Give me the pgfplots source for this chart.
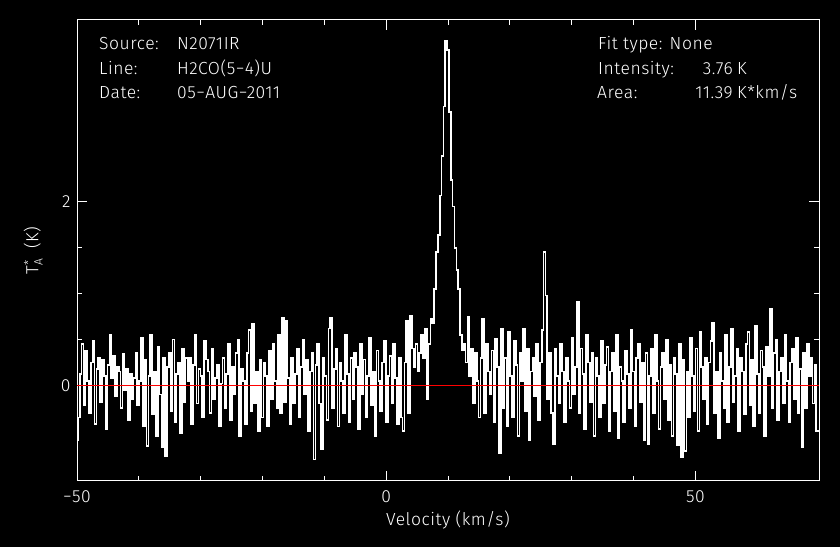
\documentclass[border=0pt]{standalone}
\usepackage{pgfplots}
\pgfplotsset{compat=1.18}
\usepackage{fontspec}
\setmainfont{Fira Sans}[UprightFont=* Light, LetterSpace=3]

\begin{document}
\begin{tikzpicture}[every node/.style={text=white}]
\path[use as bounding box, fill=black] (0,0) rectangle (840bp,547bp);
\begin{axis}[
  at={(77bp,66bp)}, anchor=south west,
  scale only axis, width=742bp, height=461bp,
  xmin=-50, xmax=70, ymin=-1.044, ymax=3.984,
  axis line style={white, line width=1bp},
  every tick/.style={white, line width=1bp},
  tick align=inside,
  major tick length=10bp, minor tick length=5bp,
  xtick={-50,0,50}, xticklabels={−50,0,50},
  ytick={0,2}, yticklabels={0,2},
  minor x tick num=4, minor y tick num=3,
  tick label style={font=\fontsize{17.5bp}{20bp}\selectfont},
  xticklabel style={yshift=-6bp},
  yticklabel style={xshift=-3bp},
  xlabel={Velocity (km/s)},
  ylabel={T\rlap{\raisebox{0.6ex}{\fontsize{12bp}{13bp}\selectfont *}}\raisebox{-0.45ex}{\fontsize{12bp}{13bp}\selectfont A}\ \ (K)},
  label style={font=\fontsize{17.5bp}{20bp}\selectfont},
  xlabel style={at={(axis description cs:0.5,0)}, anchor=base, yshift=-44bp},
  ylabel style={at={(axis description cs:-0.059,0.5)}, anchor=center},
  clip=true,
]
\addplot[white, line width=1.7bp, const plot mark mid] coordinates {
(-50.0,-0.60) (-49.7,-0.35) (-49.4,0.12) (-49.1,0.45) (-48.8,-0.22) (-48.5,0.38) (-48.2,0.05) (-47.9,-0.30) (-47.6,0.25) (-47.3,0.48)
(-47.0,-0.42) (-46.7,0.18) (-46.4,0.30) (-46.1,-0.18) (-45.8,0.28) (-45.5,0.10) (-45.2,-0.48) (-44.9,0.22) (-44.6,0.55) (-44.3,0.08)
(-44.0,0.32) (-43.7,-0.12) (-43.4,0.20) (-43.1,0.15) (-42.8,-0.25) (-42.5,0.34) (-42.2,-0.05) (-41.9,0.18) (-41.6,-0.38) (-41.3,0.12)
(-41.0,-0.15) (-40.7,0.08) (-40.4,0.35) (-40.1,-0.22) (-39.8,0.05) (-39.5,0.52) (-39.2,-0.45) (-38.9,0.28) (-38.6,-0.66) (-38.3,0.10)
(-38.0,0.55) (-37.7,-0.32) (-37.4,0.15) (-37.1,-0.55) (-36.8,0.42) (-36.5,-0.10) (-36.2,-0.68) (-35.9,0.30) (-35.6,-0.77) (-35.3,0.20)
(-35.0,0.35) (-34.7,-0.28) (-34.4,0.50) (-34.1,-0.40) (-33.8,0.12) (-33.5,0.25) (-33.2,-0.52) (-32.9,0.40) (-32.6,-0.18) (-32.3,0.30)
(-32.0,0.05) (-31.7,0.30) (-31.4,-0.42) (-31.1,0.22) (-30.8,0.55) (-30.5,-0.20) (-30.2,0.18) (-29.9,0.10) (-29.6,-0.35) (-29.3,0.48)
(-29.0,0.28) (-28.7,0.15) (-28.4,-0.30) (-28.1,0.40) (-27.8,-0.15) (-27.5,0.08) (-27.2,0.22) (-26.9,-0.45) (-26.6,0.02) (-26.3,0.30)
(-26.0,-0.25) (-25.7,0.12) (-25.4,0.45) (-25.1,-0.38) (-24.8,0.20) (-24.5,-0.10) (-24.2,0.35) (-23.9,0.50) (-23.6,-0.55) (-23.3,0.18)
(-23.0,0.05) (-22.7,-0.42) (-22.4,0.35) (-22.1,0.60) (-21.8,-0.28) (-21.5,0.67) (-21.2,-0.20) (-20.9,0.15) (-20.6,-0.50) (-20.3,0.28)
(-20.0,-0.35) (-19.7,0.25) (-19.4,0.10) (-19.1,-0.45) (-18.8,0.38) (-18.5,-0.15) (-18.2,0.45) (-17.9,0.05) (-17.6,-0.25) (-17.3,0.55)
(-17.0,-0.30) (-16.7,0.74) (-16.4,-0.18) (-16.1,0.70) (-15.8,0.08) (-15.5,-0.42) (-15.2,0.30) (-14.9,-0.20) (-14.6,0.12) (-14.3,0.40)
(-14.0,-0.35) (-13.7,0.20) (-13.4,0.50) (-13.1,-0.10) (-12.8,0.28) (-12.5,-0.50) (-12.2,0.15) (-11.9,0.35) (-11.6,-0.81) (-11.3,0.22)
(-11.0,0.45) (-10.7,-0.20) (-10.4,-0.70) (-10.1,0.30) (-9.8,0.10) (-9.5,-0.38) (-9.2,0.62) (-8.9,0.73) (-8.6,-0.25) (-8.3,0.18)
(-8.0,0.40) (-7.7,-0.45) (-7.4,0.25) (-7.1,0.05) (-6.8,-0.30) (-6.5,0.55) (-6.2,0.12) (-5.9,-0.40) (-5.6,0.30) (-5.3,-0.15)
(-5.0,0.35) (-4.7,0.20) (-4.4,-0.48) (-4.1,0.45) (-3.8,-0.10) (-3.5,0.28) (-3.2,-0.35) (-2.9,0.10) (-2.6,0.52) (-2.3,-0.22)
(-2.0,0.15) (-1.7,-0.55) (-1.4,0.38) (-1.1,0.05) (-0.8,-0.28) (-0.5,0.25) (-0.2,0.48) (0.1,-0.40) (0.4,0.10) (0.7,0.32)
(1.0,-0.20) (1.3,0.45) (1.6,0.08) (1.9,-0.42) (2.2,0.30) (2.5,-0.35) (2.8,-0.50) (3.1,0.25) (3.4,0.70) (3.7,-0.30)
(4.0,0.76) (4.3,0.40) (4.6,0.20) (4.9,0.45) (5.2,0.15) (5.5,0.35) (5.8,0.55) (6.1,0.30) (6.4,0.62) (6.7,-0.15)
(7.0,0.45) (7.3,0.72) (7.6,0.68) (7.9,1.05) (8.2,1.45) (8.5,1.64) (8.8,2.07) (9.1,2.50) (9.4,3.04) (9.7,3.76)
(10.0,3.66) (10.3,2.98) (10.6,2.24) (10.9,1.95) (11.2,1.50) (11.5,1.26) (11.8,1.05) (12.1,0.55) (12.4,0.38) (12.7,0.45)
(13.0,0.25) (13.3,0.75) (13.6,0.10) (13.9,0.40) (14.2,-0.20) (14.5,0.35) (14.8,0.05) (15.1,-0.35) (15.4,0.30) (15.7,0.72)
(16.0,-0.30) (16.3,0.45) (16.6,0.15) (16.9,-0.10) (17.2,0.38) (17.5,-0.40) (17.8,0.51) (18.1,0.20) (18.4,-0.74) (18.7,0.62)
(19.0,-0.25) (19.3,0.30) (19.6,-0.45) (19.9,0.58) (20.2,0.10) (20.5,-0.35) (20.8,0.48) (21.1,0.22) (21.4,-0.55) (21.7,0.35)
(22.0,0.05) (22.3,0.62) (22.6,-0.28) (22.9,0.40) (23.2,-0.60) (23.5,0.15) (23.8,0.30) (24.1,-0.12) (24.4,0.45) (24.7,-0.38)
(25.0,0.25) (25.3,0.60) (25.6,1.45) (25.9,0.98) (26.2,-0.15) (26.5,0.35) (26.8,-0.30) (27.1,-0.64) (27.4,0.40) (27.7,0.10)
(28.0,-0.20) (28.3,0.45) (28.6,0.15) (28.9,-0.40) (29.2,0.30) (29.5,0.05) (29.8,-0.25) (30.1,0.52) (30.4,-0.10) (30.7,0.20)
(31.0,0.91) (31.3,-0.30) (31.6,0.40) (31.9,0.12) (32.2,-0.48) (32.5,0.55) (32.8,0.25) (33.1,-0.18) (33.4,0.35) (33.7,-0.55)
(34.0,0.30) (34.3,0.10) (34.6,-0.35) (34.9,0.48) (35.2,-0.20) (35.5,0.22) (35.8,0.42) (36.1,-0.50) (36.4,0.15) (36.7,0.35)
(37.0,-0.28) (37.3,0.55) (37.6,-0.58) (37.9,0.20) (38.2,0.05) (38.5,-0.40) (38.8,0.38) (39.1,0.12) (39.4,-0.25) (39.7,0.60)
(40.0,0.15) (40.3,-0.45) (40.6,0.30) (40.9,0.45) (41.2,-0.18) (41.5,0.25) (41.8,-0.60) (42.1,0.35) (42.4,-0.64) (42.7,0.10)
(43.0,0.40) (43.3,-0.30) (43.6,0.55) (43.9,0.05) (44.2,-0.48) (44.5,0.20) (44.8,0.35) (45.1,-0.15) (45.4,0.50) (45.7,-0.38)
(46.0,0.22) (46.3,-0.55) (46.6,0.30) (46.9,0.12) (47.2,-0.65) (47.5,0.45) (47.8,-0.78) (48.1,0.28) (48.4,-0.72) (48.7,0.15)
(49.0,-0.35) (49.3,0.52) (49.6,0.10) (49.9,-0.28) (50.2,0.40) (50.5,-0.50) (50.8,0.58) (51.1,0.20) (51.4,-0.15) (51.7,0.30)
(52.0,-0.42) (52.3,0.25) (52.6,0.48) (52.9,0.68) (53.2,-0.30) (53.5,0.15) (53.8,-0.58) (54.1,0.35) (54.4,0.05) (54.7,-0.25)
(55.0,0.55) (55.3,-0.40) (55.6,0.20) (55.9,0.62) (56.2,-0.18) (56.5,0.10) (56.8,0.40) (57.1,-0.50) (57.4,0.30) (57.7,0.15)
(58.0,-0.32) (58.3,0.45) (58.6,0.58) (58.9,-0.22) (59.2,0.28) (59.5,-0.45) (59.8,0.65) (60.1,0.12) (60.4,-0.30) (60.7,0.38)
(61.0,0.20) (61.3,-0.55) (61.6,0.42) (61.9,0.10) (62.2,0.83) (62.5,-0.25) (62.8,0.35) (63.1,0.50) (63.4,-0.38) (63.7,0.15)
(64.0,0.30) (64.3,-0.20) (64.6,0.55) (64.9,0.05) (65.2,-0.40) (65.5,0.25) (65.8,0.40) (66.1,-0.15) (66.4,0.52) (66.7,-0.30)
(67.0,0.18) (67.3,-0.67) (67.6,0.35) (67.9,-0.25) (68.2,0.45) (68.5,0.10) (68.8,0.30) (69.1,-0.20) (69.4,0.22) (69.7,-0.50) (70.0,-0.50)
};
% zero baseline
\addplot[red, line width=0.8bp] coordinates {(-50,0) (70,0)};
\end{axis}
% header text
\begin{scope}[every node/.style={text=white, inner sep=0pt, font=\fontsize{17.5bp}{20bp}\selectfont}]
\node[anchor=base west] at (99bp,497bp) {Source:};
\node[anchor=base west] at (177bp,497bp) {N2071IR};
\node[anchor=base west] at (99bp,472bp) {Line:};
\node[anchor=base west] at (177bp,472bp) {H2CO(5−4)U};
\node[anchor=base west] at (99bp,448bp) {Date:};
\node[anchor=base west] at (177bp,448bp) {05−AUG−2011};
\node[anchor=base west] at (598bp,497bp) {Fit type: None};
\node[anchor=base west] at (598bp,472bp) {Intensity:};
\node[anchor=base east] at (733bp,472bp) {3.76};
\node[anchor=base west] at (737bp,472bp) {K};
\node[anchor=base west] at (597bp,448bp) {Area:};
\node[anchor=base east] at (733bp,448bp) {11.39};
\node[anchor=base west] at (737bp,448bp) {K*km/s};
\end{scope}
\end{tikzpicture}
\end{document}
